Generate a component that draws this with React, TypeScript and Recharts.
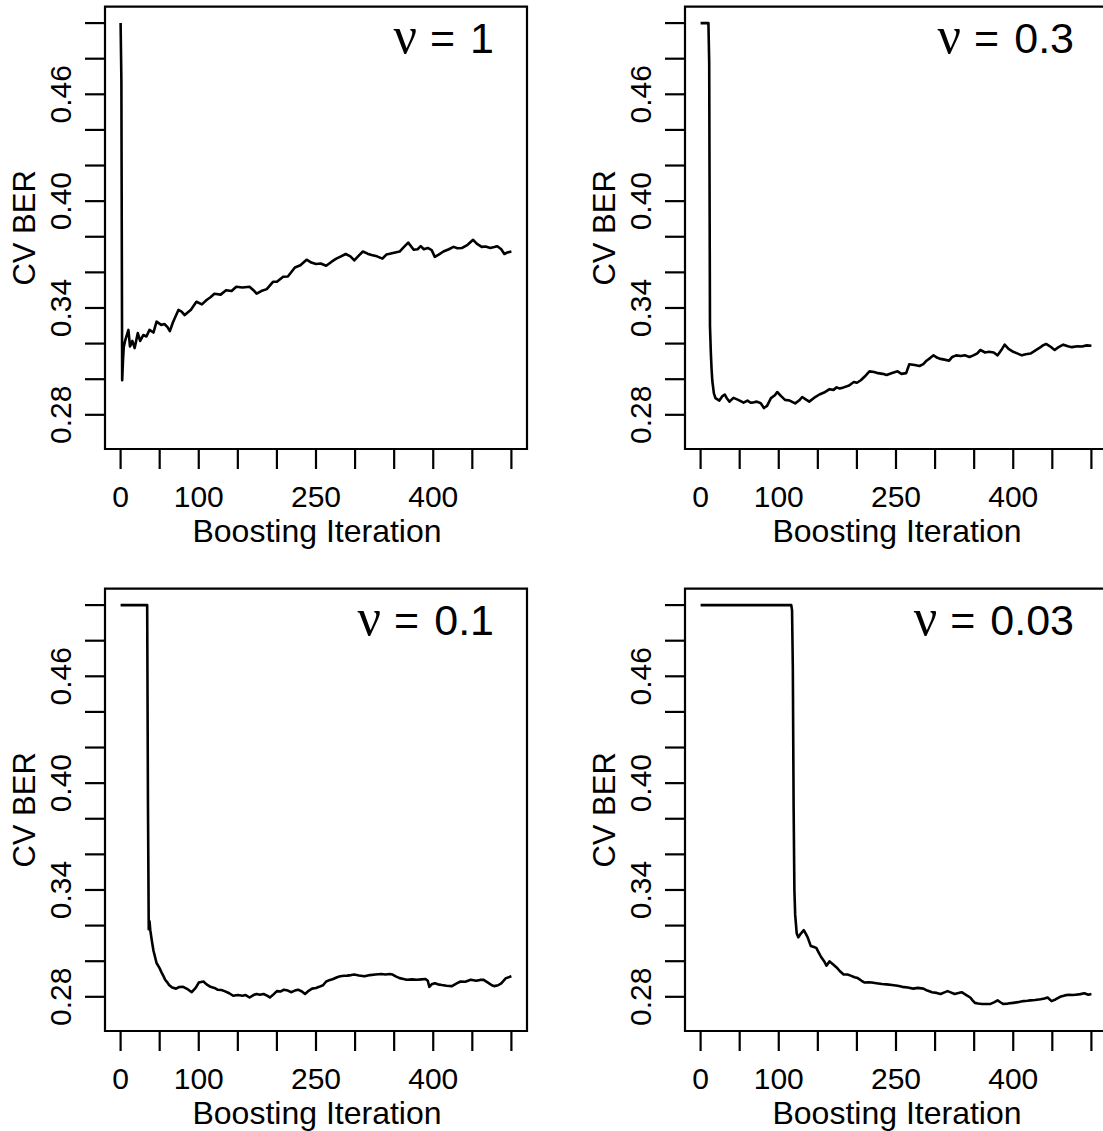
import React from "react";
import { LineChart, Line, XAxis, YAxis, ReferenceArea } from "recharts";

// ---------- axis ticks ----------
const xTicks = [0, 50, 100, 150, 200, 250, 300, 350, 400, 450, 500];
const xTickLabels = [0, 100, 250, 400];
const yTicks = [0.28, 0.3, 0.32, 0.34, 0.36, 0.38, 0.4, 0.42, 0.44, 0.46, 0.48, 0.5];
const yTickLabels = [0.28, 0.34, 0.4, 0.46];
const xDomain: [number, number] = [-19.96, 519.96];
const yDomain: [number, number] = [0.2608, 0.5092];

// ---------- series: nu = 1 ----------
const iterNu1 = [0, 1, 2, 3, 4, 6, 10, 12, 15, 18, 22, 25, 29, 33, 37, 42, 46, 52, 56, 60, 63, 67, 74, 78, 82, 90, 97, 104, 110, 115, 120, 128, 135, 142, 148, 156, 165, 170, 174, 180, 187, 195, 200, 208, 214, 223, 230, 238, 244, 250, 256, 263, 270, 276, 282, 288, 294, 299, 305, 310, 316, 321, 328, 335, 340, 343, 350, 357, 362, 368, 375, 380, 384, 388, 393, 398, 402, 407, 413, 420, 426, 431, 437, 444, 451, 456, 462, 467, 473, 478, 482, 487, 491, 495, 500];
const berNu1 = [0.5, 0.4675, 0.2994, 0.31, 0.318, 0.322, 0.3277, 0.3184, 0.3215, 0.3175, 0.3259, 0.3215, 0.3248, 0.324, 0.3277, 0.3262, 0.3323, 0.3305, 0.331, 0.3292, 0.327, 0.332, 0.3389, 0.338, 0.336, 0.339, 0.3435, 0.342, 0.3445, 0.346, 0.348, 0.3475, 0.35, 0.3495, 0.3519, 0.3515, 0.3519, 0.35, 0.348, 0.3495, 0.3506, 0.3547, 0.3547, 0.3575, 0.3577, 0.3627, 0.364, 0.3671, 0.3655, 0.3647, 0.365, 0.3637, 0.366, 0.3677, 0.369, 0.3703, 0.369, 0.3667, 0.3695, 0.3717, 0.3705, 0.3697, 0.369, 0.3677, 0.37, 0.3703, 0.371, 0.3717, 0.374, 0.3767, 0.3727, 0.373, 0.3747, 0.373, 0.3737, 0.3725, 0.3687, 0.37, 0.3717, 0.373, 0.3743, 0.3735, 0.3737, 0.3755, 0.3783, 0.376, 0.3743, 0.3745, 0.3737, 0.3742, 0.3747, 0.373, 0.3703, 0.3712, 0.3717];

// ---------- series: nu = 0.3 ----------
const iterNu03 = [0, 10, 11, 12, 13, 14, 15, 17, 19, 24, 28, 31, 34, 37, 42, 46, 50, 55, 60, 64, 68, 72, 77, 81, 85, 90, 95, 98, 103, 108, 114, 121, 126, 130, 135, 139, 145, 152, 158, 165, 170, 174, 178, 183, 190, 196, 200, 205, 210, 216, 222, 227, 233, 238, 245, 252, 257, 263, 267, 274, 280, 285, 289, 294, 298, 303, 307, 312, 318, 322, 327, 333, 338, 344, 349, 354, 358, 364, 369, 375, 380, 385, 389, 394, 400, 405, 411, 416, 422, 428, 433, 438, 442, 447, 453, 458, 464, 470, 475, 482, 488, 494, 500];
const berNu03 = [0.5, 0.5, 0.478, 0.33, 0.316, 0.306, 0.299, 0.292, 0.2894, 0.288, 0.2905, 0.2914, 0.289, 0.2874, 0.2895, 0.2888, 0.288, 0.2868, 0.288, 0.2868, 0.287, 0.2874, 0.2865, 0.2838, 0.285, 0.2894, 0.291, 0.2928, 0.2905, 0.2884, 0.288, 0.2864, 0.288, 0.29, 0.2885, 0.2874, 0.2895, 0.2914, 0.2925, 0.2944, 0.294, 0.2954, 0.2948, 0.2954, 0.2965, 0.2984, 0.298, 0.2994, 0.3015, 0.3044, 0.304, 0.3034, 0.303, 0.3024, 0.3035, 0.3044, 0.303, 0.3034, 0.3084, 0.308, 0.3074, 0.3085, 0.3104, 0.312, 0.3134, 0.312, 0.3114, 0.311, 0.3104, 0.3125, 0.3134, 0.313, 0.3134, 0.3125, 0.3134, 0.3145, 0.3164, 0.315, 0.3154, 0.315, 0.3134, 0.3165, 0.3194, 0.317, 0.3154, 0.3145, 0.3134, 0.314, 0.3144, 0.316, 0.3174, 0.319, 0.3198, 0.3185, 0.3164, 0.318, 0.3194, 0.3185, 0.318, 0.3185, 0.3184, 0.319, 0.3188];

// ---------- series: nu = 0.1 ----------
const iterNu01 = [0, 34, 35, 36, 37, 38, 40, 42, 44, 46, 48, 50, 52, 55, 57, 60, 62, 66, 71, 75, 80, 85, 91, 96, 100, 106, 110, 115, 120, 124, 129, 133, 139, 144, 150, 156, 160, 165, 170, 174, 178, 183, 188, 191, 196, 200, 205, 209, 214, 218, 223, 227, 232, 236, 241, 245, 250, 254, 259, 263, 268, 272, 277, 281, 286, 290, 295, 299, 305, 312, 319, 326, 333, 339, 344, 348, 352, 357, 362, 366, 373, 379, 385, 390, 393, 395, 398, 402, 406, 411, 417, 424, 430, 435, 441, 448, 455, 460, 464, 470, 475, 478, 483, 487, 493, 500];
const berNu01 = [0.5, 0.5, 0.389, 0.318, 0.3224, 0.3174, 0.3114, 0.306, 0.3025, 0.299, 0.2975, 0.296, 0.294, 0.2915, 0.2896, 0.288, 0.2866, 0.2852, 0.2846, 0.2855, 0.2856, 0.2845, 0.2826, 0.285, 0.288, 0.2886, 0.287, 0.2856, 0.285, 0.284, 0.2838, 0.2832, 0.282, 0.2806, 0.281, 0.2806, 0.281, 0.2796, 0.281, 0.2816, 0.2812, 0.2816, 0.2805, 0.2796, 0.2815, 0.2832, 0.283, 0.284, 0.2835, 0.2826, 0.2835, 0.284, 0.283, 0.2816, 0.2835, 0.2846, 0.285, 0.2856, 0.2865, 0.2886, 0.2895, 0.29, 0.291, 0.2915, 0.2918, 0.2919, 0.2922, 0.2925, 0.292, 0.2915, 0.2922, 0.2925, 0.2928, 0.2925, 0.2928, 0.2925, 0.2915, 0.2905, 0.29, 0.2896, 0.2898, 0.2896, 0.2898, 0.29, 0.289, 0.2856, 0.287, 0.2876, 0.287, 0.2866, 0.2862, 0.286, 0.2875, 0.2886, 0.2885, 0.2896, 0.289, 0.2895, 0.2896, 0.288, 0.2865, 0.286, 0.2865, 0.2876, 0.2905, 0.2915];

// ---------- series: nu = 0.03 ----------
const iterNu003 = [0, 116, 117, 118, 119, 120, 121, 123, 125, 128, 132, 135, 137, 141, 145, 148, 151, 154, 158, 161, 165, 170, 174, 178, 183, 188, 192, 197, 201, 206, 210, 215, 219, 225, 232, 238, 245, 252, 258, 265, 272, 278, 285, 290, 296, 302, 307, 312, 316, 320, 325, 330, 334, 340, 345, 348, 351, 355, 360, 366, 371, 376, 380, 384, 387, 393, 400, 406, 413, 418, 422, 428, 435, 440, 444, 449, 454, 460, 466, 471, 476, 480, 486, 491, 496, 500];
const berNu003 = [0.5, 0.5, 0.497, 0.465, 0.387, 0.34, 0.326, 0.3155, 0.3134, 0.3154, 0.3174, 0.315, 0.3134, 0.3085, 0.308, 0.3075, 0.305, 0.3025, 0.3, 0.2975, 0.2999, 0.298, 0.2965, 0.2945, 0.2925, 0.2925, 0.2919, 0.291, 0.2905, 0.289, 0.288, 0.2882, 0.288, 0.2876, 0.2872, 0.287, 0.2866, 0.2862, 0.2856, 0.2852, 0.2846, 0.285, 0.2846, 0.2835, 0.2826, 0.2822, 0.2816, 0.2825, 0.2832, 0.2825, 0.2816, 0.2822, 0.2826, 0.281, 0.2796, 0.278, 0.2766, 0.2762, 0.276, 0.276, 0.276, 0.277, 0.278, 0.2768, 0.276, 0.2762, 0.2766, 0.277, 0.2776, 0.2778, 0.278, 0.2782, 0.2786, 0.279, 0.2796, 0.2776, 0.2785, 0.28, 0.2808, 0.2812, 0.281, 0.2812, 0.2815, 0.282, 0.2812, 0.2816];

const nuLabels = ["1", "0.3", "0.1", "0.03"];
const seriesIters = [iterNu1, iterNu03, iterNu01, iterNu003];
const seriesBer = [berNu1, berNu03, berNu01, berNu003];

// ---------- layout ----------
const CW = 580;
const CH = 582;
const PLOT_LEFT = 105;
const PLOT_TOP = 6.7;
const PLOT_RIGHT = 527;
const PLOT_BOTTOM = 449;
const panelPos = [
  { left: 0, top: 0 },
  { left: 580, top: 0 },
  { left: 0, top: 582 },
  { left: 580, top: 582 },
];

const SANS = "'Liberation Sans', Arial, Helvetica, sans-serif";

const XTick = (props: any) => {
  const { x, y, payload } = props;
  if (!xTickLabels.includes(payload.value)) return null;
  return (
    <text x={x} y={y + 38} textAnchor="middle" fontSize={30} fontFamily={SANS} fill="#000">
      {String(payload.value)}
    </text>
  );
};

const YTick = (props: any) => {
  const { x, y, payload } = props;
  const show = yTickLabels.some((v) => Math.abs(v - payload.value) < 1e-6);
  if (!show) return null;
  const px = x - 14;
  return (
    <text
      x={px}
      y={y}
      transform={`rotate(-90, ${px}, ${y})`}
      textAnchor="middle"
      fontSize={30}
      fontFamily={SANS}
      fill="#000"
    >
      {payload.value.toFixed(2)}
    </text>
  );
};

const XLabel = () => (
  <text x={(PLOT_LEFT + PLOT_RIGHT) / 2 + 1} y={541.5} textAnchor="middle" fontSize={32} fontFamily={SANS} fill="#000">
    Boosting Iteration
  </text>
);

const YLabel = () => {
  const cx = 35.5;
  const cy = (PLOT_TOP + PLOT_BOTTOM) / 2;
  return (
    <text x={cx} y={cy} transform={`rotate(-90, ${cx}, ${cy})`} textAnchor="middle" fontSize={31} fontFamily={SANS} fill="#000">
      CV BER
    </text>
  );
};

const Title = ({ nu }: { nu: string }) => (
  <text x={494} y={53} textAnchor="end" fontSize={43} fontFamily={SANS} fill="#000">
    <tspan fontFamily="'Liberation Serif', 'DejaVu Serif', serif" fontSize={52}>ν</tspan>
    <tspan dx={13}>=</tspan>
    <tspan dx={15}>{nu}</tspan>
  </text>
);

function Panel({ idx }: { idx: number }) {
  const iters = seriesIters[idx];
  const ber = seriesBer[idx];
  const data = iters.map((it, i) => ({ x: it, y: ber[i] }));
  const pos = panelPos[idx];
  return (
    <div style={{ position: "absolute", left: pos.left, top: pos.top, width: CW, height: CH }}>
      <LineChart
        width={CW}
        height={CH}
        data={data}
        margin={{ top: PLOT_TOP, right: CW - PLOT_RIGHT, bottom: 0, left: 0 }}
      >
        <XAxis
          dataKey="x"
          type="number"
          domain={xDomain}
          allowDataOverflow
          ticks={xTicks}
          interval={0}
          height={CH - PLOT_BOTTOM}
          tickSize={20}
          tickMargin={0}
          axisLine={false}
          tickLine={{ stroke: "#000", strokeWidth: 2.2 }}
          tick={<XTick />}
          label={<XLabel />}
        />
        <YAxis
          type="number"
          domain={yDomain}
          allowDataOverflow
          ticks={yTicks}
          interval={0}
          width={PLOT_LEFT}
          tickSize={20}
          tickMargin={0}
          axisLine={false}
          tickLine={{ stroke: "#000", strokeWidth: 2.2 }}
          tick={<YTick />}
          label={<YLabel />}
        />
        <ReferenceArea
          x1={xDomain[0]}
          x2={xDomain[1]}
          y1={yDomain[0]}
          y2={yDomain[1]}
          fill="none"
          stroke="#000"
          strokeWidth={2.2}
          ifOverflow="visible"
          label={<Title nu={nuLabels[idx]} />}
        />
        <Line
          type="linear"
          dataKey="y"
          stroke="#000"
          strokeWidth={2.6}
          strokeLinejoin="round"
          dot={false}
          activeDot={false}
          isAnimationActive={false}
        />
      </LineChart>
    </div>
  );
}

export default function App() {
  return (
    <div
      style={{
        position: "absolute",
        left: 0,
        top: 0,
        width: 1103,
        height: 1131,
        overflow: "hidden",
        background: "#fff",
      }}
    >
      {[0, 1, 2, 3].map((i) => (
        <Panel key={i} idx={i} />
      ))}
    </div>
  );
}
